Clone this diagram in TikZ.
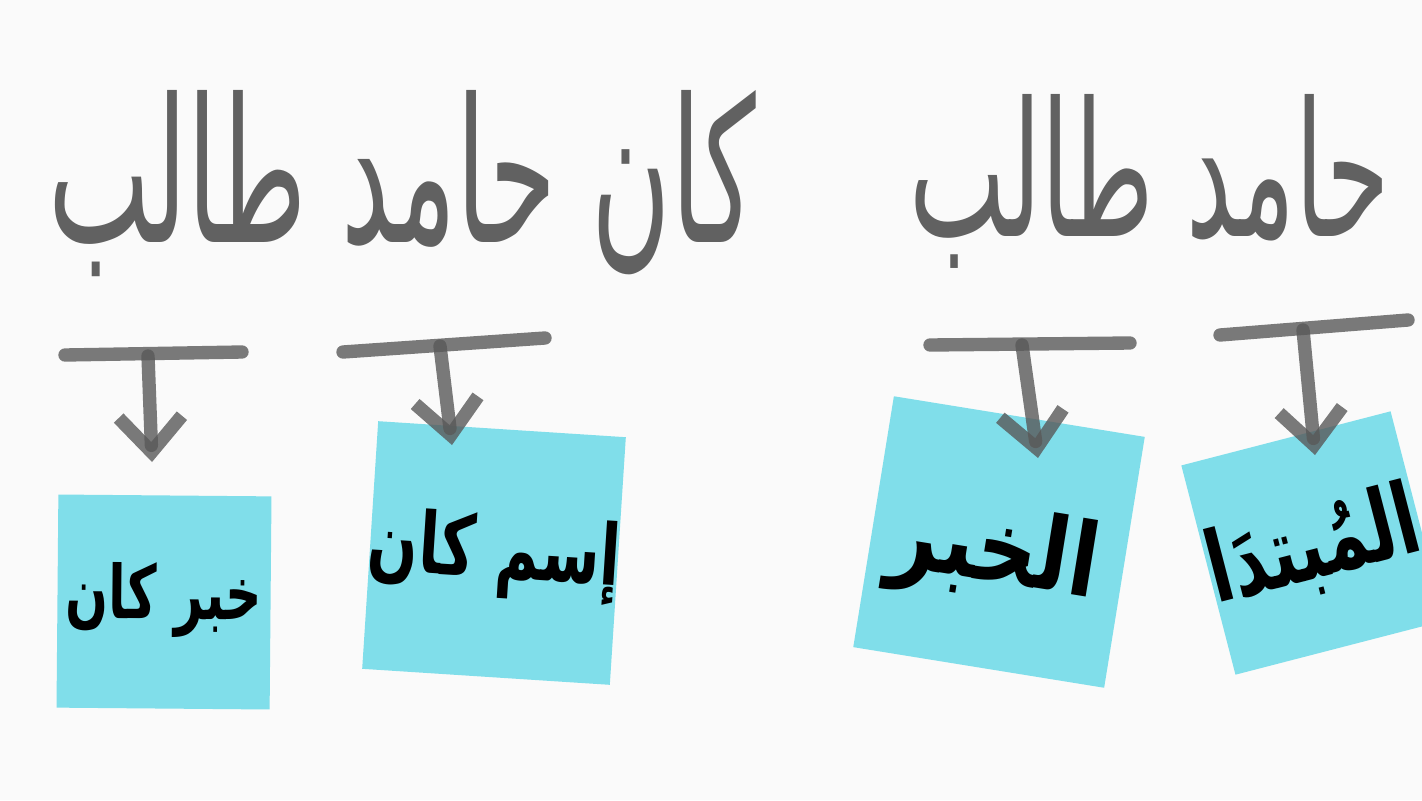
\documentclass[tikz,border=0pt]{standalone}
\usepackage{fontspec}
\newfontfamily\arabicfont[Script=Arabic]{DejaVu Sans}
\TeXXeTstate=1
\usetikzlibrary{arrows.meta}
\definecolor{notecyan}{HTML}{80DEEA}
\definecolor{paper}{HTML}{FAFAFA}
\tikzset{
  scrawl/.style={text=black!62,inner sep=0pt,anchor=base,font=\arabicfont},
  note/.style={fill=notecyan,inner sep=0pt,minimum size=#1},
  notetext/.style={inner sep=0pt,font=\arabicfont\bfseries\fontsize{#1}{#1}\selectfont},
  bar/.style={draw=black!65,line width=3.8pt,opacity=.8,line cap=round},
  pointer/.style={bar,-{Straight Barb[length=10pt,width=18pt]}},
}

\begin{document}
\begin{tikzpicture}[x=0.01cm,y=-0.01cm]
  \fill[paper] (0,0) rectangle (1422,800);
  \useasboundingbox (0,0) rectangle (1422,800);

  % handwritten sentences
  \node[scrawl] (kanaline) at (402,242)
    {\resizebox{7.07cm}{1.52cm}{\beginR كان حامد طالب\endR}};
  \node[scrawl] (nounline) at (1150,236)
    {\resizebox{4.8cm}{1.42cm}{\beginR حامد طالب\endR}};

  % sticky notes
  \node[note=2.13cm,rotate=-0.5] (khabarkana) at (164,602) {};
  \node[note=2.48cm,rotate=-3.7] (ismkana) at (494,553) {};
  \node[note=2.54cm,rotate=-9.2] (khabar) at (999,542) {};
  \node[note=2.16cm,rotate=14.5] (mubtada) at (1313,543) {};

  \node[notetext=21pt,rotate=-0.5] (khabarkana-t) at (164,600)
    {\scalebox{0.68}[1]{\beginR خبر كان\endR}};
  \node[notetext=24pt,rotate=-3.7] (ismkana-t) at (494,556)
    {\scalebox{0.7}[1]{\beginR إسم كان\endR}};
  \node[notetext=29pt,rotate=-9.2] (khabar-t) at (994,555)
    {\scalebox{0.83}[1]{\beginR الخبر\endR}};
  \node[notetext=28pt,rotate=14.5] (mubtada-t) at (1314,549)
    {\scalebox{0.7}[1]{\beginR المُبتدَا\endR}};

  % brackets under the words
  \coordinate (barA-l) at (65,355);   \coordinate (barA-r) at (242,352);
  \coordinate (stemA) at (148,356);   \coordinate (tipA) at (152,462);
  \coordinate (barB-l) at (343,352);  \coordinate (barB-r) at (545,338);
  \coordinate (stemB) at (440,346);   \coordinate (tipB) at (452,445);
  \coordinate (barC-l) at (930,345);  \coordinate (barC-r) at (1130,343);
  \coordinate (stemC) at (1022,345);  \coordinate (tipC) at (1038,458);
  \coordinate (barD-l) at (1220,335); \coordinate (barD-r) at (1408,320);
  \coordinate (stemD) at (1303,330);  \coordinate (tipD) at (1315,455);
  \foreach \b in {A,B,C,D} {
    \draw[bar] (bar\b-l) -- (bar\b-r);
    \draw[pointer] (stem\b) -- (tip\b);
  }
\end{tikzpicture}
\end{document}
